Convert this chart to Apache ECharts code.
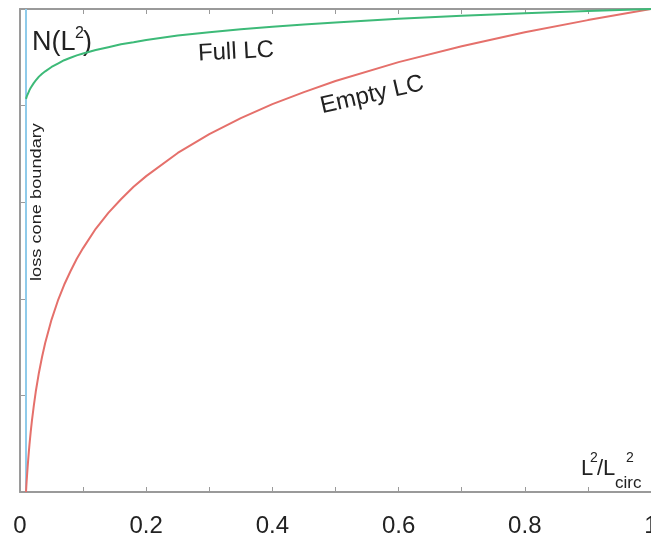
<!DOCTYPE html>
<html>
<head>
<meta charset="utf-8">
<script src="https://cdn.jsdelivr.net/npm/echarts@6/dist/echarts.min.js"></script>
<style>
html,body{margin:0;padding:0;background:#fff;overflow:hidden;}
#chart{width:651px;height:539px;}
</style>
</head>
<body>
<div id="chart"></div>
<script>
// x = L^2 / L^2_circ
var xValues = [0.0095, 0.0100, 0.0105, 0.011, 0.012, 0.013, 0.014, 0.015, 0.017, 0.019, 0.022, 0.025, 0.03, 0.035, 0.04, 0.05, 0.06, 0.07, 0.08, 0.09, 0.1, 0.12, 0.14, 0.16, 0.18, 0.2, 0.25, 0.3, 0.35, 0.4, 0.45, 0.5, 0.6, 0.7, 0.8, 0.9, 1.0];
// Empty loss cone N(L^2)
var emptyLC = [0, 0.011, 0.022, 0.031, 0.050, 0.067, 0.083, 0.098, 0.125, 0.149, 0.180, 0.208, 0.247, 0.280, 0.309, 0.357, 0.396, 0.429, 0.457, 0.483, 0.505, 0.545, 0.578, 0.606, 0.632, 0.654, 0.702, 0.741, 0.774, 0.803, 0.828, 0.851, 0.890, 0.923, 0.952, 0.977, 1.0];
// Full loss cone N(L^2)
var fullLC = [0.814, 0.816, 0.818, 0.820, 0.823, 0.826, 0.829, 0.832, 0.837, 0.841, 0.847, 0.852, 0.860, 0.866, 0.871, 0.880, 0.887, 0.894, 0.899, 0.904, 0.908, 0.915, 0.921, 0.927, 0.931, 0.936, 0.945, 0.952, 0.958, 0.963, 0.968, 0.972, 0.980, 0.986, 0.991, 0.996, 1.0];
// loss cone boundary position
var lossCone = [0.0095];
var xTickLabels = ['0', '0.2', '0.4', '0.6', '0.8', '1'];

function pairs(xs, ys){ return xs.map(function(x,i){ return [x, ys[i]]; }); }

var FONT = '"Liberation Sans", Arial, Helvetica, sans-serif';
var axisGray = '#9a9a9a';
var txt = '#222';

var chart = echarts.init(document.getElementById('chart'), null, {renderer:'canvas'});
var option = {
  animation: false,
  backgroundColor: '#fff',
  grid: {left: 20, right: 0, top: 9, bottom: 47, containLabel: false, outerBoundsMode: 'none'},
  xAxis: [{
    type: 'value', min: 0, max: 1, interval: 0.1, position: 'bottom',
    axisLine: {show: true, onZero: false, lineStyle: {color: axisGray, width: 2}},
    axisTick: {show: true, inside: true, length: 5, lineStyle: {color: axisGray, width: 1}},
    splitLine: {show: false},
    axisLabel: {
      margin: 22, color: txt, fontSize: 24, fontFamily: FONT,
      showMinLabel: true, showMaxLabel: true, hideOverlap: false,
      formatter: function(v){
        var k = Math.round(v * 10);
        if (k % 2) return '';
        return xTickLabels[k / 2];
      }
    }
  }, {
    type: 'value', min: 0, max: 1, interval: 0.1, position: 'top',
    axisLine: {show: true, onZero: false, lineStyle: {color: axisGray, width: 2}},
    axisTick: {show: true, inside: true, length: 5, lineStyle: {color: axisGray, width: 1}},
    splitLine: {show: false},
    axisLabel: {show: false}
  }],
  yAxis: {
    type: 'value', min: 0, max: 1, interval: 0.2,
    axisLine: {show: true, onZero: false, lineStyle: {color: axisGray, width: 2}},
    axisTick: {show: true, inside: true, length: 5, lineStyle: {color: axisGray, width: 1}},
    splitLine: {show: false},
    axisLabel: {show: false}
  },
  series: [{
    type: 'line', name: 'loss cone boundary',
    data: [[lossCone[0], 0], [lossCone[0], 1]],
    showSymbol: false, symbol: 'none',
    lineStyle: {color: '#8fcbea', width: 2}, z: 1
  }, {
    type: 'line', name: 'Empty LC', data: pairs(xValues, emptyLC),
    showSymbol: false, symbol: 'none', smooth: false,
    lineStyle: {color: '#e5706b', width: 2}, z: 3
  }, {
    type: 'line', name: 'Full LC', data: pairs(xValues, fullLC),
    showSymbol: false, symbol: 'none', smooth: false,
    lineStyle: {color: '#3dba78', width: 2}, z: 3
  }],
  graphic: [
    {type:'text', x:32, y:43, style:{text:'N(L', font:'27px '+FONT, fill:txt, textAlign:'left', textVerticalAlign:'middle'}},
    {type:'text', x:75, y:34, style:{text:'2', font:'16px '+FONT, fill:txt, textAlign:'left', textVerticalAlign:'middle'}},
    {type:'text', x:83, y:43, style:{text:')', font:'27px '+FONT, fill:txt, textAlign:'left', textVerticalAlign:'middle'}},
    {type:'text', x:236, y:52, rotation: 3*Math.PI/180, style:{text:'Full LC', font:'24px '+FONT, fill:txt, textAlign:'center', textVerticalAlign:'middle'}},
    {type:'text', x:372, y:95, rotation: 13*Math.PI/180, style:{text:'Empty LC', font:'24px '+FONT, fill:txt, textAlign:'center', textVerticalAlign:'middle'}},
    {type:'text', x:37.5, y:202, rotation: Math.PI/2, scaleX: 1.3, style:{text:'loss cone boundary', font:'14px '+FONT, fill:txt, textAlign:'center', textVerticalAlign:'middle'}},
    {type:'text', x:581, y:469, style:{text:'L', font:'22px '+FONT, fill:txt, textAlign:'left', textVerticalAlign:'middle'}},
    {type:'text', x:590, y:458, style:{text:'2', font:'14px '+FONT, fill:txt, textAlign:'left', textVerticalAlign:'middle'}},
    {type:'text', x:597, y:469, style:{text:'/', font:'22px '+FONT, fill:txt, textAlign:'left', textVerticalAlign:'middle'}},
    {type:'text', x:603, y:469, style:{text:'L', font:'22px '+FONT, fill:txt, textAlign:'left', textVerticalAlign:'middle'}},
    {type:'text', x:626, y:458, style:{text:'2', font:'14px '+FONT, fill:txt, textAlign:'left', textVerticalAlign:'middle'}},
    {type:'text', x:615, y:483, style:{text:'circ', font:'17px '+FONT, fill:txt, textAlign:'left', textVerticalAlign:'middle'}}
  ]
};
chart.setOption(option);
</script>
</body>
</html>
